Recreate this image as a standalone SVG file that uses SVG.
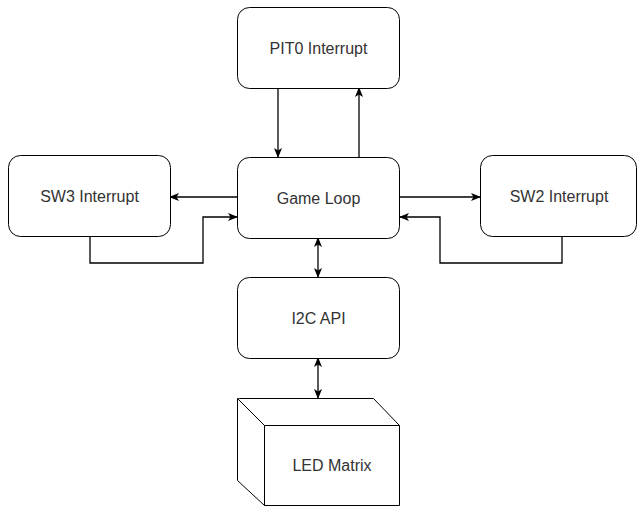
<svg xmlns="http://www.w3.org/2000/svg" width="639" height="508" viewBox="0 0 639 508">
<style>
.box{fill:#fff;stroke:#000;stroke-width:1}
.lbl{font-family:"Liberation Sans",Arial,sans-serif;font-size:16px;fill:#333;text-anchor:middle;dominant-baseline:central}
.edge{fill:none;stroke:#000;stroke-width:1.3}
</style>
<defs>
<marker id="ah" viewBox="0 0 10 10" refX="9" refY="5" markerWidth="10" markerHeight="10" markerUnits="userSpaceOnUse" orient="auto-start-reverse">
<path d="M0,1 L10,5 L0,9 L2.5,5 Z" fill="#000"/>
</marker>
</defs>
<g id="connectors">
<path class="edge" d="M278,88 V157" marker-end="url(#ah)"/>
<path class="edge" d="M359,157 V88" marker-end="url(#ah)"/>
<path class="edge" d="M237,197 H170" marker-end="url(#ah)"/>
<path class="edge" d="M90,237 V263 H203 V217 H237" marker-end="url(#ah)"/>
<path class="edge" d="M400,197 H480" marker-end="url(#ah)"/>
<path class="edge" d="M562,237 V263 H440 V217 H400" marker-end="url(#ah)"/>
<path class="edge" d="M318,238 V277" marker-start="url(#ah)" marker-end="url(#ah)"/>
<path class="edge" d="M318,358 V398" marker-start="url(#ah)" marker-end="url(#ah)"/>
</g>
<g id="pit0">
<rect class="box" x="237.5" y="7.5" width="162" height="81" rx="12"/>
<text class="lbl" x="318.5" y="48">PIT0 Interrupt</text>
</g>
<g id="gameloop">
<rect class="box" x="237.5" y="157.5" width="162" height="81" rx="12"/>
<text class="lbl" x="318.5" y="198">Game Loop</text>
</g>
<g id="sw3">
<rect class="box" x="8.5" y="155.5" width="162" height="81" rx="12"/>
<text class="lbl" x="89.5" y="196">SW3 Interrupt</text>
</g>
<g id="sw2">
<rect class="box" x="480.5" y="155.5" width="156" height="81" rx="12"/>
<text class="lbl" x="559" y="196">SW2 Interrupt</text>
</g>
<g id="i2c">
<rect class="box" x="237.5" y="277.5" width="162" height="81" rx="12"/>
<text class="lbl" x="318.5" y="318">I2C API</text>
</g>
<g id="led">
<path class="box" d="M237.5,398.5 H373.5 L399.5,425.5 V505.5 H264.5 L237.5,480.5 Z"/>
<path class="box" d="M237.5,398.5 L264.5,425.5 H399.5 M264.5,425.5 V505.5" fill="none"/>
<text class="lbl" x="332" y="465">LED Matrix</text>
</g>
</svg>
